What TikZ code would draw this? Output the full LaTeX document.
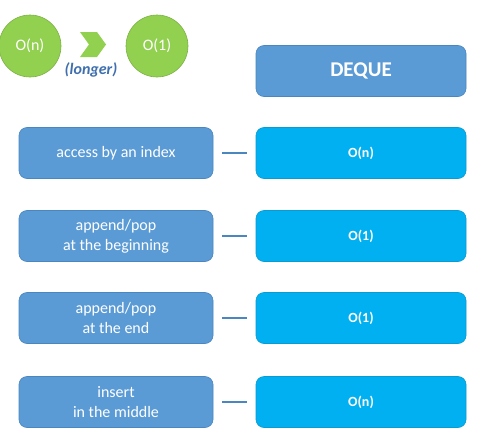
\documentclass[tikz,border=0pt]{standalone}
\usepackage{fontspec}
\setmainfont{Carlito}
\definecolor{gr}{HTML}{92D050}
\definecolor{bl}{HTML}{5B9BD5}
\definecolor{bld}{HTML}{4A86C0}
\definecolor{cy}{HTML}{00B0F0}
\definecolor{cyd}{HTML}{0A9BD2}
\definecolor{lg}{HTML}{3F6FAE}
\begin{document}
\begin{tikzpicture}[x=1pt,y=-1pt,
  circ/.style={circle,fill=gr,draw=gr!85!black,line width=0.6pt,minimum size=62pt,inner sep=0pt,text=white,font=\fontsize{16}{19}\selectfont},
  lbox/.style={rounded corners=8pt,fill=bl,draw=bld,line width=0.6pt,minimum width=194pt,minimum height=51pt,text=white,align=center,font=\fontsize{16}{20}\selectfont},
  rbox/.style={rounded corners=8pt,fill=cy,draw=cyd,line width=0.6pt,minimum width=210pt,minimum height=51pt,text=white,align=center,font=\bfseries\fontsize{14}{17}\selectfont},
  link/.style={draw=bld,line width=2pt}]
\useasboundingbox (0,0) rectangle (479,431);
\fill[white] (0,0) rectangle (479,431);
\node[circ] (c1) at (30,46) {O(n)};
\node[circ] (c2) at (157,46) {O(1)};
\fill[gr] (80,32) -- (97,32) -- (106,44.5) -- (97,57) -- (80,57) -- (89,44.5) -- cycle;
\node[text=lg,font=\bfseries\itshape\fontsize{16}{19}\selectfont] (lo) at (91,70) {(longer)};
\node[rbox,fill=bl,draw=bld,font=\bfseries\fontsize{21}{25}\selectfont] (dq) at (361,71) {DEQUE};
\node[lbox] (l1) at (116,153) {access by an index};
\node[lbox] (l2) at (116,236) {append/pop\\at the beginning};
\node[lbox] (l3) at (116,318) {append/pop\\at the end};
\node[lbox] (l4) at (116,402) {insert\\in the middle};
\node[rbox] (r1) at (361,153) {O(n)};
\node[rbox] (r2) at (361,236) {O(1)};
\node[rbox] (r3) at (361,318) {O(1)};
\node[rbox] (r4) at (361,402) {O(n)};
\foreach \i in {1,2,3,4}{
  \path (l\i.east) ++(9pt,0) coordinate (a\i);
  \path (r\i.west) ++(-9pt,0) coordinate (b\i);
  \draw[link] (a\i) -- (b\i);
}
\end{tikzpicture}
\end{document}
